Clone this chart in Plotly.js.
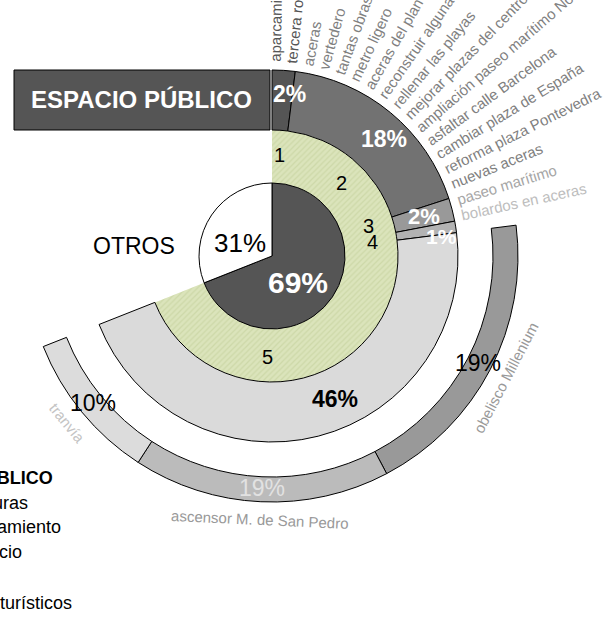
<!DOCTYPE html>
<html>
<head>
<meta charset="utf-8">
<script src="https://cdn.plot.ly/plotly-3.0.1.min.js"></script>
<style>
  html, body { margin: 0; padding: 0; background: #fff; }
</style>
</head>
<body>
<div id="chart" style="width:606px;height:631px;"></div>
<script>
  // data
  var innerLabels = ['ESPACIO PÚBLICO', 'OTROS'];
  var innerValues = [69, 31];

  var groupNums = ['1', '2', '3', '4', '5'];
  var groupValues = [2, 18, 2, 1, 46];
  var groupPct = ['2%', '18%', '2%', '1%', '46%'];

  // outer ring, clockwise, sits over group 5
  var outerLabels = ['obelisco Millenium', 'ascensor M. de San Pedro', 'tranvía'];
  var outerValues = [19.2, 16.8, 9.8];
  var outerPct = ['19%', '19%', '10%'];

  var itemLabels = [
    ['aparcamiento', 'tercera ronda'],
    ['aceras', 'vertedero', 'tantas obras', 'metro ligero', 'aceras del plan E',
     'reconstruir algunas calles', 'rellenar las playas', 'mejorar plazas del centro',
     'ampliación paseo marítimo Norte', 'asfaltar calle Barcelona', 'cambiar plaza de España',
     'reforma plaza Pontevedra', 'nuevas aceras'],
    ['paseo marítimo'],
    ['bolardos en aceras']
  ];

  var legendLines = ['ESPACIO PÚBLICO', '1 Infraestructuras', '2 Saneamiento', '3 Comercio', '4 Ocio', '5 Proyectos turísticos'];

  // layout constants
  var W = 606, H = 631;
  var CX = 272, CY = 256, RMAX = 256;
  var R0 = 73, R1 = 126, R2 = 186, R3a = 221, R3b = 246;
  var FONT = 'Liberation Sans, Arial, sans-serif';

  var innerColors = ['#555555', '#ffffff'];
  var groupColors = ['#555555', '#727272', '#999999', '#b3b3b3', '#dadada'];
  var groupTextColors = ['#fff', '#fff', '#fff', '#fff', '#000'];
  var outerColors = ['#999999', '#bbbbbb', '#dcdcdc'];
  var outerPctColors = ['#000', '#e2e2e2', '#000'];
  var outerNameColors = ['#999', '#999', '#c4c4c4'];
  var itemColors = ['#555555', '#808080', '#a6a6a6', '#bdbdbd'];
  var green = '#dbe4bb';

  function sum(a) { return a.reduce(function (s, v) { return s + v; }, 0); }

  function arcs(values, start, scale) {
    var a = start, theta = [], width = [];
    values.forEach(function (v) {
      var w = v * scale;
      theta.push(a + w / 2);
      width.push(w);
      a += w;
    });
    return {theta: theta, width: width};
  }

  function ring(values, start, scale, base, thick, colors, lineW) {
    var g = arcs(values, start, scale);
    return {
      type: 'barpolar',
      r: values.map(function () { return thick; }),
      base: values.map(function () { return base; }),
      theta: g.theta,
      width: g.width,
      marker: {color: colors, line: {color: '#000', width: lineW}},
      hoverinfo: 'skip'
    };
  }

  var pctScale = 3.6;
  var outerStart = sum(groupValues.slice(0, 4)) * pctScale;
  var outerScale = groupValues[4] * pctScale / sum(outerValues);

  var innerArcs = arcs(innerValues, 0, pctScale);
  var groupArcs = arcs(groupValues, 0, pctScale);
  var outerArcs = arcs(outerValues, outerStart, outerScale);

  var greenRing = {
    type: 'barpolar',
    r: [R1 - R0], base: [R0],
    theta: [innerValues[0] * pctScale / 2],
    width: [innerValues[0] * pctScale],
    marker: {
      color: green,
      line: {width: 0},
      pattern: {shape: '/', fgcolor: '#cdd8a8', bgcolor: green, size: 4, solidity: 0.3}
    },
    hoverinfo: 'skip'
  };

  var data = [
    greenRing,
    ring(innerValues, 0, pctScale, 0, R0, innerColors, 1),
    ring(groupValues, 0, pctScale, R1, R2 - R1, groupColors, 1),
    ring(outerValues, outerStart, outerScale, R3a, R3b - R3a, outerColors, 1)
  ];

  // polar -> paper helpers
  function px(bearing, r) { return (CX + r * Math.sin(bearing * Math.PI / 180)) / W; }
  function py(bearing, r) { return 1 - (CY - r * Math.cos(bearing * Math.PI / 180)) / H; }

  var ctx = document.createElement('canvas').getContext('2d');
  function textW(t, size) { ctx.font = size + 'px "Liberation Sans"'; return ctx.measureText(t).width; }

  var ann = [];
  function label(text, bearing, r, size, color, bold, angle) {
    ann.push({
      x: px(bearing, r), y: py(bearing, r), xref: 'paper', yref: 'paper',
      text: bold ? '<b>' + text + '</b>' : text,
      showarrow: false, xanchor: 'center', yanchor: 'middle',
      textangle: angle || 0,
      font: {family: FONT, size: size, color: color}
    });
  }

  // inner pie labels
  var innerNudge = [12, -12];
  label('69%', innerArcs.theta[0] + innerNudge[0], 37, 30, '#fff', true);
  label('31%', innerArcs.theta[1] + innerNudge[1], 35, 26, '#000', false);
  label(innerLabels[1], innerArcs.theta[1] - 30, 138, 23, '#000', false);

  // green ring numbers
  var numNudge = [0.4, 4, -3, 1, 17];
  groupNums.forEach(function (n, i) {
    label(n, groupArcs.theta[i] + numNudge[i], 101, 20, '#000', false);
  });

  // ring percentages
  var pctNudge = [2.7, 4, 0, 2.5, -9.6];
  var pctR = [163, 162, 157, 171, 156];
  var pctSize = [23, 23, 22, 21, 23];
  groupPct.forEach(function (t, i) {
    label(t, groupArcs.theta[i] + pctNudge[i], pctR[i], pctSize[i], groupTextColors[i], true);
  });

  // outer ring labels
  outerLabels.forEach(function (t, i) {
    var b = outerArcs.theta[i];
    label(outerPct[i], b, 232, 23, outerPctColors[i], false);
    label(t, b, 264, 15, outerNameColors[i], false, b - 180);
  });

  // radial item labels
  var k = 0;
  itemLabels.forEach(function (grp, g) {
    grp.forEach(function (t) {
      var b = 1 + k * 4.8;
      var r = 194 + textW(t, 15) / 2;
      label(t, b, r, 15, itemColors[g], false, b - 90);
      k++;
    });
  });

  // legend block, cut by the left edge
  var legendRight = [55, 30, 63, 24, -6, 74];
  var legendY = [477, 503, 527, 552, 577, 603];
  legendLines.forEach(function (t, i) {
    ann.push({
      x: legendRight[i] / W, y: 1 - legendY[i] / H, xref: 'paper', yref: 'paper',
      text: i === 0 ? '<b>' + t + '</b>' : t,
      showarrow: false, xanchor: 'right', yanchor: 'middle',
      font: {family: FONT, size: 18, color: '#000'}
    });
  });

  // title box over the first group band
  ann.push({
    x: 141 / W, y: 1 - (CY - (R1 + R2) / 2) / H, xref: 'paper', yref: 'paper',
    xanchor: 'center', yanchor: 'middle',
    text: '<b>' + innerLabels[0] + '</b>', showarrow: false,
    font: {family: FONT, size: 24, color: '#fff'}
  });

  var layout = {
    width: W, height: H,
    margin: {l: 0, r: 0, t: 0, b: 0},
    paper_bgcolor: '#fff',
    showlegend: false,
    polar: {
      domain: {x: [(CX - RMAX) / W, (CX + RMAX) / W], y: [1 - (CY + RMAX) / H, 1 - (CY - RMAX) / H]},
      bgcolor: 'rgba(0,0,0,0)',
      barmode: 'overlay',
      radialaxis: {visible: false, range: [0, RMAX]},
      angularaxis: {visible: false, direction: 'clockwise', rotation: 90}
    },
    shapes: [{
      type: 'rect', xref: 'paper', yref: 'paper',
      x0: 14 / W, x1: (CX - 2) / W,
      y0: 1 - (CY - R1) / H, y1: 1 - (CY - R2) / H,
      fillcolor: '#555555', line: {color: '#000', width: 1}, layer: 'above'
    }],
    annotations: ann
  };

  Plotly.newPlot('chart', data, layout, {displayModeBar: false});
</script>
</body>
</html>
